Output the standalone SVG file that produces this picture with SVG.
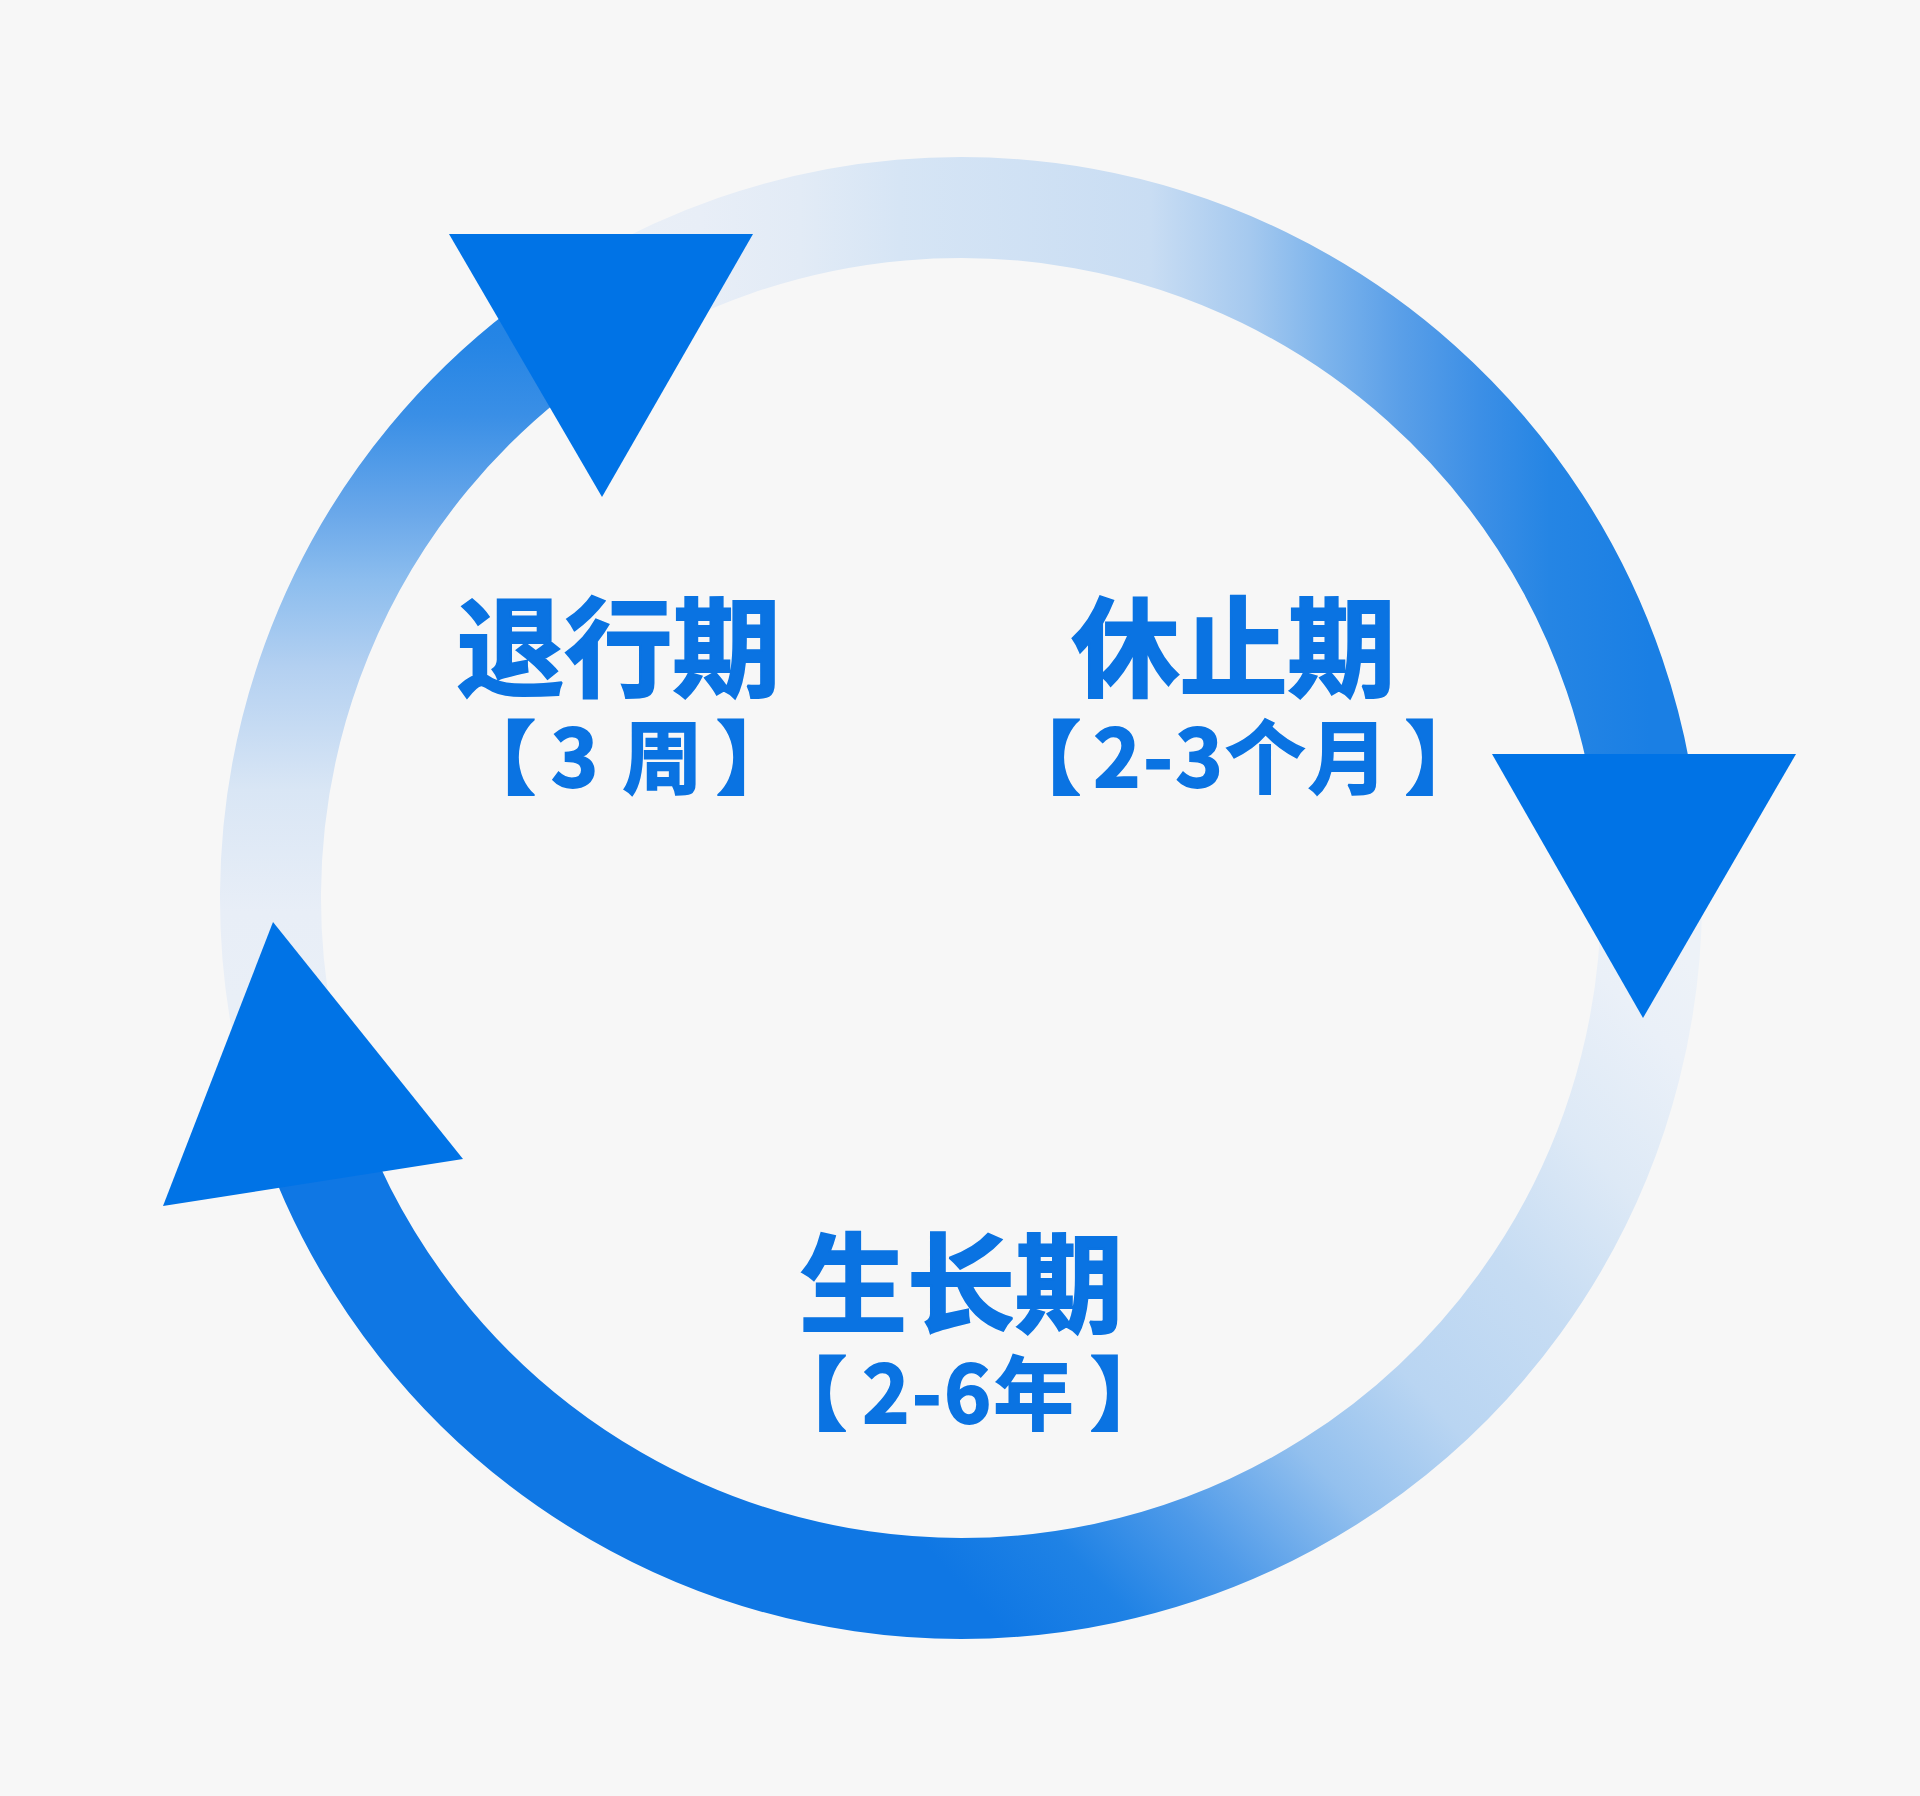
<svg xmlns="http://www.w3.org/2000/svg" width="1920" height="1796" viewBox="0 0 1920 1796">
  <style>
    .arc { fill: none; stroke-width: 101; stroke-linecap: butt; }
    .head { fill: #0073e6; }
    .title { font-family: "Noto Sans CJK SC", "Noto Sans", sans-serif; font-weight: 700; font-size: 108px; fill: #0a73e2; stroke: #0a73e2; stroke-width: 2.2; stroke-linejoin: miter; stroke-miterlimit: 2; text-anchor: middle; }
    .sub { font-family: "Noto Sans CJK SC", "Noto Sans", sans-serif; font-weight: 700; font-size: 80px; fill: #0a73e2; stroke: #0a73e2; stroke-width: 1.8; stroke-linejoin: miter; stroke-miterlimit: 2; text-anchor: middle; }
  </style>
  <defs>
    <linearGradient id="gA" gradientUnits="userSpaceOnUse" x1="640" y1="0" x2="1700" y2="0">
      <stop offset="0" stop-color="#e9eff7"/>
      <stop offset="0.057" stop-color="#e8eef7"/>
      <stop offset="0.151" stop-color="#e2ebf6"/>
      <stop offset="0.245" stop-color="#d6e5f5"/>
      <stop offset="0.481" stop-color="#c9ddf3"/>
      <stop offset="0.575" stop-color="#a5c9ef"/>
      <stop offset="0.642" stop-color="#7fb5ec"/>
      <stop offset="0.717" stop-color="#5a9fe8"/>
      <stop offset="0.792" stop-color="#3c8fe6"/>
      <stop offset="0.858" stop-color="#2585e4"/>
      <stop offset="0.953" stop-color="#1a7fe4"/>
      <stop offset="1" stop-color="#1a7fe4"/>
    </linearGradient>
    <linearGradient id="gB" gradientUnits="userSpaceOnUse" x1="1651.1" y1="922.1" x2="936.9" y2="1588.1">
      <stop offset="0" stop-color="#edf2f8"/>
      <stop offset="0.075" stop-color="#eaf0f8"/>
      <stop offset="0.207" stop-color="#dde9f6"/>
      <stop offset="0.347" stop-color="#c6dcf3"/>
      <stop offset="0.5" stop-color="#b9d5f2"/>
      <stop offset="0.63" stop-color="#93c0ee"/>
      <stop offset="0.765" stop-color="#4e9ae9"/>
      <stop offset="0.875" stop-color="#1f82e5"/>
      <stop offset="0.98" stop-color="#0f77e4"/>
      <stop offset="1" stop-color="#0f77e4"/>
    </linearGradient>
    <linearGradient id="gC" gradientUnits="userSpaceOnUse" x1="0" y1="1000" x2="0" y2="300">
      <stop offset="0" stop-color="#e9eff7"/>
      <stop offset="0.126" stop-color="#e8eef7"/>
      <stop offset="0.3" stop-color="#d9e6f5"/>
      <stop offset="0.476" stop-color="#b3d0f1"/>
      <stop offset="0.6" stop-color="#8cbdee"/>
      <stop offset="0.694" stop-color="#6aa8ea"/>
      <stop offset="0.834" stop-color="#3a8fe6"/>
      <stop offset="0.939" stop-color="#2585e5"/>
      <stop offset="1" stop-color="#2283e5"/>
    </linearGradient>
  </defs>
  <rect width="1920" height="1796" fill="#f7f7f7"/>
  <g id="connectors">
    <path id="arc-top" class="arc" stroke="url(#gA)" d="M595.1,312.4 A690.5,690.5 0 0 1 1647.7,825.8"/>
    <path id="arc-bottom" class="arc" stroke="url(#gB)" d="M1647.7,825.8 A690.5,690.5 0 0 1 304.3,1111.4"/>
    <path id="arc-left" class="arc" stroke="url(#gC)" d="M304.3,1111.4 A690.5,690.5 0 0 1 595.1,312.4"/>
    <polygon id="head-topleft" class="head" points="449,234 753,234 602,497"/>
    <polygon id="head-right" class="head" points="1492,754 1796,754 1643,1018"/>
    <polygon id="head-left" class="head" points="273,922 163,1206 463,1159"/>
  </g>
  <g id="node-regression">
    <text class="title" x="618.5" y="688">退行期</text>
    <text class="sub" x="626" y="787">【<tspan dx="15" letter-spacing="3">3 周</tspan><tspan dx="10.5">】</tspan></text>
  </g>
  <g id="node-rest">
    <text class="title" x="1233.5" y="688">休止期</text>
    <text class="sub" x="1243" y="787">【<tspan dx="12" letter-spacing="2.7">2-3个月</tspan><tspan dx="14">】</tspan></text>
  </g>
  <g id="node-growth">
    <text class="title" x="961" y="1324">生长期</text>
    <text class="sub" x="968.5" y="1423">【<tspan dx="15" letter-spacing="2.4">2-6年</tspan><tspan dx="13.8">】</tspan></text>
  </g>
</svg>
